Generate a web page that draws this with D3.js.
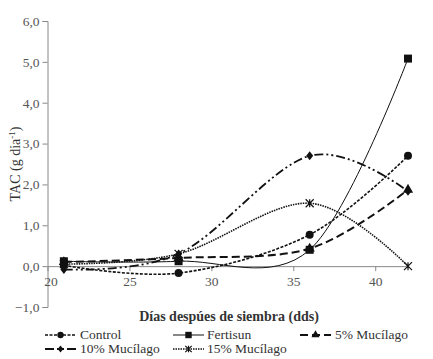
<!DOCTYPE html>
<html><head><meta charset="utf-8">
<script src="https://cdn.jsdelivr.net/npm/d3@7"></script>
<style>body{margin:0;background:#fff}svg{display:block}text{font-family:"Liberation Serif","DejaVu Serif",serif}</style>
</head><body>
<svg id="c" width="433" height="359"></svg>
<script>
const days = [21, 28, 36, 42];
const seriesNames = ["Control", "Fertisun", "5% Mucílago", "10% Mucílago", "15% Mucílago"];
const control   = [0.02, -0.17, 0.77, 2.70];
const fertisun  = [0.12, 0.12, 0.40, 5.08];
const muc5      = [0.10, 0.20, 0.43, 1.87];
const muc10     = [-0.08, 0.30, 2.70, 1.83];
const muc15     = [0.05, 0.30, 1.54, 0.00];
const yTicks = [-1, 0, 1, 2, 3, 4, 5, 6];
const xTicks = [20, 25, 30, 35, 40];

const svg = d3.select("#c");
const x = d3.scaleLinear().domain([20, 42]).range([47.5, 408]);
const y = d3.scaleLinear().domain([-1, 6]).range([307, 21]);
const fmt = d => d3.format(".1f")(d).replace(".", ",");

// y axis
const ya = svg.append("g").attr("transform", "translate(47.5,0)")
  .call(d3.axisLeft(y).tickValues(yTicks).tickFormat(fmt).tickSize(5).tickPadding(3));
ya.attr("font-family", null);
ya.select(".domain").attr("stroke", "#888");
ya.selectAll(".tick line").attr("stroke", "#888");
ya.selectAll("text").attr("fill", "#555").style("font-size", "13.5px");

// x axis at y=0
const xa = svg.append("g").attr("transform", `translate(0,${y(0)})`)
  .call(d3.axisBottom(x).tickValues(xTicks).tickFormat(d3.format("d")).tickSize(5).tickSizeOuter(0).tickPadding(5));
xa.attr("font-family", null);
xa.select(".domain").attr("stroke", "#888");
xa.selectAll(".tick line").attr("stroke", "#888");
xa.selectAll("text").attr("fill", "#555").style("font-size", "13.5px");
xa.selectAll(".tick").filter(d => d === 20).select("text").attr("dx", 3);

// labels
svg.append("text").attr("x", 229).attr("y", 321).attr("text-anchor", "middle")
  .attr("fill", "#333").style("font-size", "14px").style("font-weight", "bold").text("Días despúes de siembra (dds)");
const yl = svg.append("text").attr("transform", "translate(20,164) rotate(-90)").attr("text-anchor", "middle")
  .attr("fill", "#333").style("font-size", "14px");
yl.append("tspan").text("TAC (g dia");
yl.append("tspan").attr("dy", -5).style("font-size", "9px").text("-1");
yl.append("tspan").attr("dy", 5).text(")");

const styles = [
  {data: control, dash: "3,1.5", w: 1.6, marker: "circle"},
  {data: fertisun, dash: null, w: 1, marker: "square"},
  {data: muc5, dash: "8,4", w: 2, marker: "triangle"},
  {data: muc10, dash: "9,3,2,3,2,3", w: 1.8, marker: "diamond"},
  {data: muc15, dash: "1.5,1", w: 1.6, marker: "x"}
];

const line = d3.line().x(d => x(d[0])).y(d => y(d[1])).curve(d3.curveCardinal.tension(0));

function drawMarker(g, type, cx, cy, s) {
  if (type === "circle") g.append("circle").attr("cx", cx).attr("cy", cy).attr("r", 4*s).attr("fill", "#111");
  else if (type === "square") g.append("rect").attr("x", cx-4*s).attr("y", cy-4*s).attr("width", 8*s).attr("height", 8*s).attr("fill", "#111");
  else if (type === "triangle") g.append("path").attr("d", d3.symbol(d3.symbolTriangle, 45*s*s)()).attr("transform", `translate(${cx},${cy})`).attr("fill", "#111");
  else if (type === "diamond") g.append("path").attr("d", `M${cx},${cy-4.5*s}L${cx+3.5*s},${cy}L${cx},${cy+4.5*s}L${cx-3.5*s},${cy}Z`).attr("fill", "#111");
  else if (type === "x") {
    const r = 4*s;
    g.append("path").attr("d", `M${cx-r},${cy-r}L${cx+r},${cy+r}M${cx-r},${cy+r}L${cx+r},${cy-r}M${cx},${cy-r}L${cx},${cy+r}`)
      .attr("stroke", "#111").attr("stroke-width", 1.2).attr("fill", "none");
  }
}

styles.forEach(st => {
  const pts = days.map((d, i) => [d, st.data[i]]);
  svg.append("path").attr("d", line(pts)).attr("fill", "none").attr("stroke", "#111")
    .attr("stroke-width", st.w).attr("stroke-dasharray", st.dash);
  const g = svg.append("g");
  pts.forEach(p => drawMarker(g, st.marker, x(p[0]), y(p[1]), 1));
});

// legend
const legendPos = [
  {lx: 45, tx: 80, y: 335}, {lx: 173, tx: 207, y: 335}, {lx: 300, tx: 335, y: 335},
  {lx: 45, tx: 80, y: 349}, {lx: 173, tx: 207, y: 349}
];
styles.forEach((st, i) => {
  const p = legendPos[i];
  const g = svg.append("g");
  g.append("line").attr("x1", p.lx).attr("x2", p.lx + 31).attr("y1", p.y).attr("y2", p.y)
    .attr("stroke", "#111").attr("stroke-width", st.w).attr("stroke-dasharray", st.dash);
  drawMarker(g, st.marker, p.lx + 15.5, p.y, 0.8);
  g.append("text").attr("x", p.tx).attr("y", p.y + 4).attr("fill", "#333").style("font-size", "13.5px").text(seriesNames[i]);
});
</script>
</body></html>
